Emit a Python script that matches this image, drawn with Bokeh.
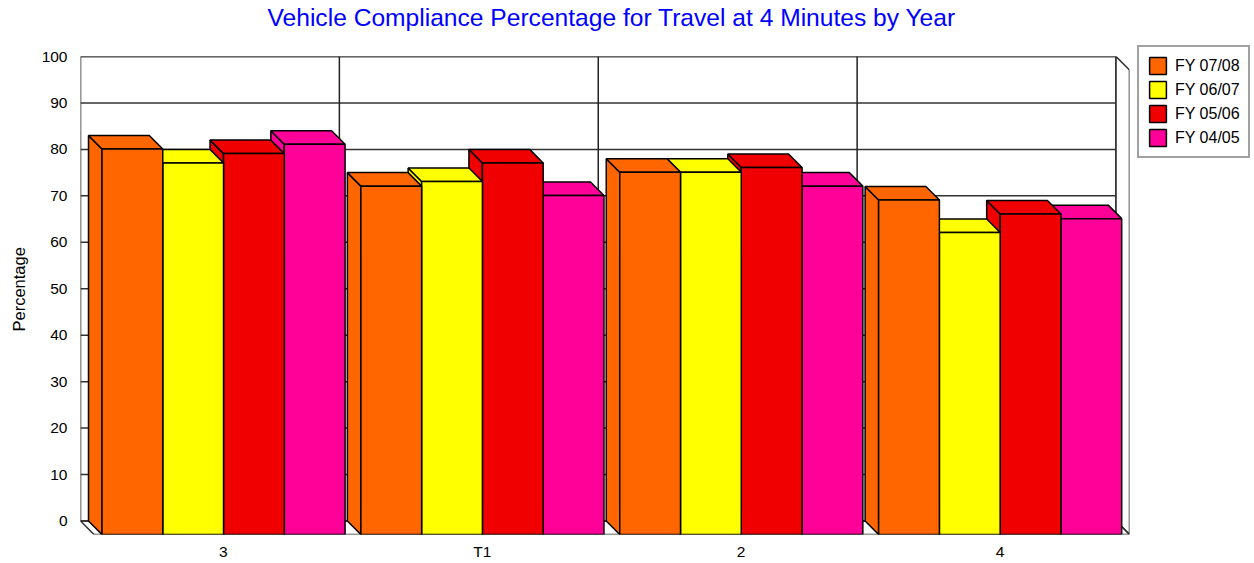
from bokeh.plotting import figure
from bokeh.models import FixedTicker, Legend, LegendItem, ColumnDataSource, Title
from bokeh.embed import file_html
from bokeh.resources import INLINE

categories = ["3", "T1", "2", "4"]
fy0708 = [83, 75, 78, 72]
fy0607 = [80, 76, 78, 65]
fy0506 = [82, 80, 79, 69]
fy0405 = [84, 73, 75, 68]
series_names = ["FY 07/08", "FY 06/07", "FY 05/06", "FY 04/05"]
series_colors = ["#FF6600", "#FFFF00", "#F00000", "#FF0099"]
y_ticks = list(range(0, 101, 10))

series_values = [fy0708, fy0607, fy0506, fy0405]
n_cat = len(categories)
n_ser = len(series_values)
DX = 13.5 / 259.0   # 3D depth in x data units
DY = 13.5 / 4.64    # 3D depth in y data units
BAR_W = 60.8 / 259.0
START = 8 / 259.0
EDGE = "#000000"
WALL = "#333333"

p = figure(frame_width=1049, frame_height=478,
           x_range=(-DX, n_cat), y_range=(-DY, 100),
           output_backend="svg", toolbar_location=None,
           background_fill_color="white", border_fill_color="white",
           min_border_left=80, min_border_right=125, min_border_top=56, min_border_bottom=29)
p.outline_line_color = None
p.xgrid.visible = False
p.ygrid.visible = False

# title
p.title.text = "Vehicle Compliance Percentage for Travel at 4 Minutes by Year"
p.title.text_color = "#0000FF"
p.title.text_font = "Liberation Sans"
p.title.text_font_size = "24.6px"
p.title.text_font_style = "normal"
p.title.align = "left"
p.title.vertical_align = "top"
p.title.offset = 187
p.title.standoff = 0

# blank title that only reserves room between the real title and the plot
p.add_layout(Title(text=" ", text_font_size="1px", standoff=21), "above")

# axes
bottom_axis = p.below[0]
left_axis = p.left[0]
bottom_axis.ticker = FixedTicker(ticks=[i + 0.5 for i in range(n_cat)])
bottom_axis.major_label_overrides = {i + 0.5: c for i, c in enumerate(categories)}
left_axis.ticker = FixedTicker(ticks=y_ticks)
for ax in (bottom_axis, left_axis):
    ax.axis_line_color = None
    ax.major_tick_line_color = None
    ax.minor_tick_line_color = None
    ax.major_tick_out = 0
    ax.minor_tick_out = 0
    ax.major_label_text_font = "Liberation Sans"
    ax.major_label_text_font_size = "15.5px"
    ax.major_label_text_color = "#000000"
bottom_axis.major_label_standoff = 8
left_axis.major_label_standoff = 13

y_title = Title(text="Percentage", text_font="Liberation Sans", text_font_size="16.5px",
                text_font_style="normal", text_color="#000000", align="left",
                vertical_align="top", offset=203, standoff=18)
p.add_layout(y_title, "left")

# walls and floor
p.patches(xs=[[-DX, n_cat - DX, n_cat - DX, -DX],
              [n_cat - DX, n_cat, n_cat, n_cat - DX],
              [-DX, 0, n_cat, n_cat - DX]],
          ys=[[0, 0, 100, 100],
              [100, 100 - DY, -DY, 0],
              [0, -DY, -DY, 0]],
          fill_color="white", line_color=WALL, line_width=1.6)
# gridlines on the back wall
p.segment(x0=[-DX] * len(y_ticks), x1=[n_cat - DX] * len(y_ticks), y0=y_ticks, y1=y_ticks,
          line_color=WALL, line_width=1.5)
p.segment(x0=[k - DX for k in range(1, n_cat)], x1=[k - DX for k in range(1, n_cat)],
          y0=[0] * (n_cat - 1), y1=[100] * (n_cat - 1), line_color="#222222", line_width=1.5)

# bars, painted from right to left since left and top faces are visible
items = {}
for s in reversed(range(n_ser)):
    vals = series_values[s]
    left = [i + START + s * BAR_W for i in range(n_cat)]
    right = [l + BAR_W for l in left]
    top = [v - DY for v in vals]
    col = series_colors[s]
    side_x = [[l - DX, l, l, l - DX] for l in left]
    side_y = [[v, v - DY, -DY, 0] for v in vals]
    top_x = [[l - DX, r - DX, r, l] for l, r in zip(left, right)]
    top_y = [[v, v, v - DY, v - DY] for v in vals]
    p.patches(xs=side_x, ys=side_y, fill_color=col, line_color=EDGE, line_width=1.5)
    p.patches(xs=top_x, ys=top_y, fill_color=col, line_color=EDGE, line_width=1.5)
    src = ColumnDataSource(dict(left=left, right=right, top=top, bottom=[-DY] * n_cat))
    r = p.quad(left="left", right="right", top="top", bottom="bottom", source=src,
               fill_color=col, line_color=EDGE, line_width=1.5)
    items[s] = r

legend = Legend(items=[LegendItem(label=series_names[s], renderers=[items[s]]) for s in range(n_ser)],
                location=(8, 376), orientation="vertical")
legend.label_text_font = "Liberation Sans"
legend.label_text_font_size = "16px"
legend.label_text_color = "#000000"
legend.glyph_width = 21
legend.glyph_height = 21
legend.label_height = 21
legend.label_standoff = 7
legend.spacing = 3
legend.padding = 8
legend.margin = 0
legend.border_line_color = "#444444"
legend.border_line_width = 2
legend.background_fill_color = "white"
legend.background_fill_alpha = 1
p.add_layout(legend, "right")

open("out.html", "w").write(file_html(p, INLINE))
